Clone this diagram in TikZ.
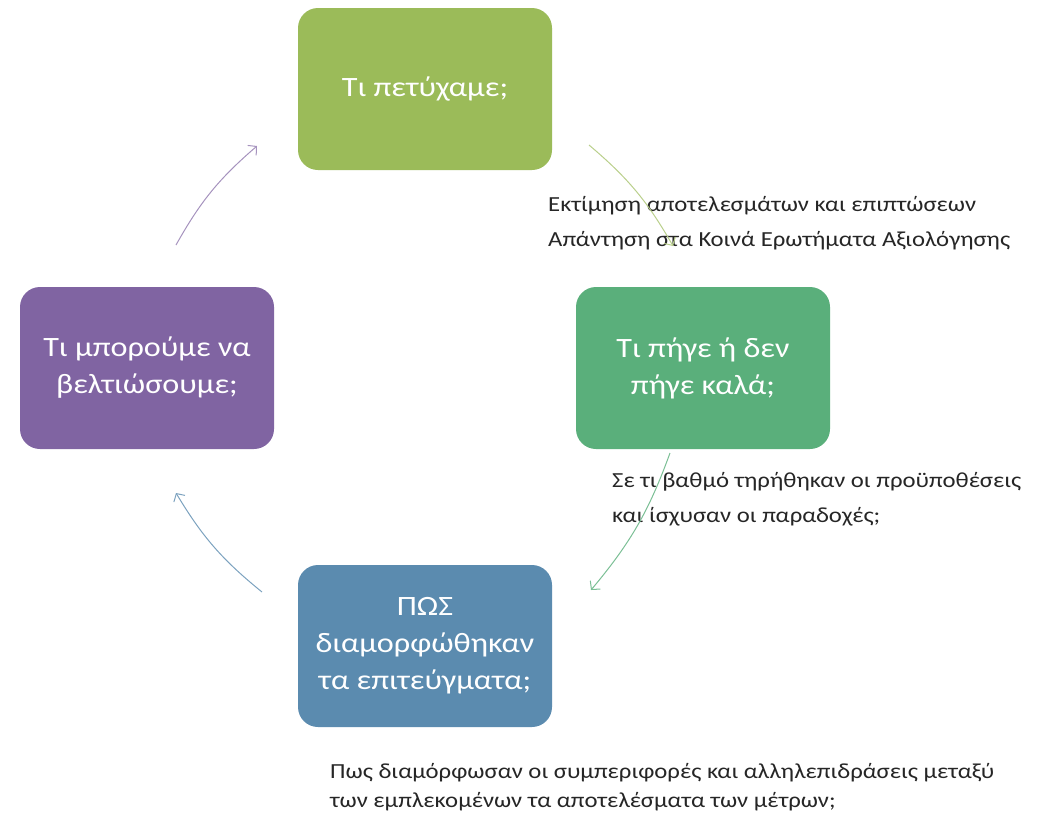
\documentclass[tikz,border=0pt]{standalone}
\usepackage{fontspec}
\setmainfont{Carlito}[FakeStretch=1.15]
\usepackage{tikz}
\usetikzlibrary{arrows.meta}

\definecolor{oliv}{HTML}{9BBB59}
\definecolor{grn}{HTML}{5AAF7B}
\definecolor{blu}{HTML}{5B8BAF}
\definecolor{purp}{HTML}{8064A2}

\begin{document}
\begin{tikzpicture}[x=1pt,y=-1pt,>={Straight Barb[length=6pt,width=13pt]}]
            \useasboundingbox (0,0) rectangle (1054,812);

            \begin{scope}[every node/.style={rectangle,rounded corners=20pt,minimum width=254pt,minimum height=162pt,text=white,align=center,font=\fontsize{28}{37}\selectfont}]
                \node[fill=oliv] (a) at (425,89) {Τι πετύχαμε;};
                \node[fill=grn] (b) at (703,368) {Τι πήγε ή δεν\\πήγε καλά;};
                \node[fill=blu] (c) at (425,646) {ΠΩΣ\\διαμορφώθηκαν\\τα επιτεύγματα;};
                \node[fill=purp] (d) at (147,368) {Τι μπορούμε να\\βελτιώσουμε;};
            \end{scope}

            \begin{scope}[every node/.style={anchor=north west,inner sep=0pt,align=left,text=black!85,font=\fontsize{21.5}{35}\selectfont}]
                \node (ta) at (548,196) {Εκτίμηση αποτελεσμάτων και επιπτώσεων\\Απάντηση στα Κοινά Ερωτήματα Αξιολόγησης};
                \node (tb) at (612,472) {Σε τι βαθμό τηρήθηκαν οι προϋποθέσεις\\και ίσχυσαν οι παραδοχές;};
                \node[font=\fontsize{21.5}{29}\selectfont] (tc) at (330,763) {Πως διαμόρφωσαν οι συμπεριφορές και αλληλεπιδράσεις μεταξύ\\των εμπλεκομένων τα αποτελέσματα των μέτρων;};
            \end{scope}

            \coordinate (ab1) at (589,145);
            \coordinate (ab2) at (673,246);
            \coordinate (bc1) at (670,453);
            \coordinate (bc2) at (591,590);
            \coordinate (cd1) at (262,592);
            \coordinate (cd2) at (176,493);
            \coordinate (da1) at (176,245);
            \coordinate (da2) at (257,146);

            \begin{scope}[line width=1pt]
                \path [->,oliv!70] (ab1) edge[bend left=10] (ab2);
                \path [->,grn!80] (bc1) edge[bend left=10] (bc2);
                \path [->,blu!80] (cd1) edge[bend left=10] (cd2);
                \path [->,purp!70] (da1) edge[bend left=10] (da2);
            \end{scope}
\end{tikzpicture}
\end{document}
